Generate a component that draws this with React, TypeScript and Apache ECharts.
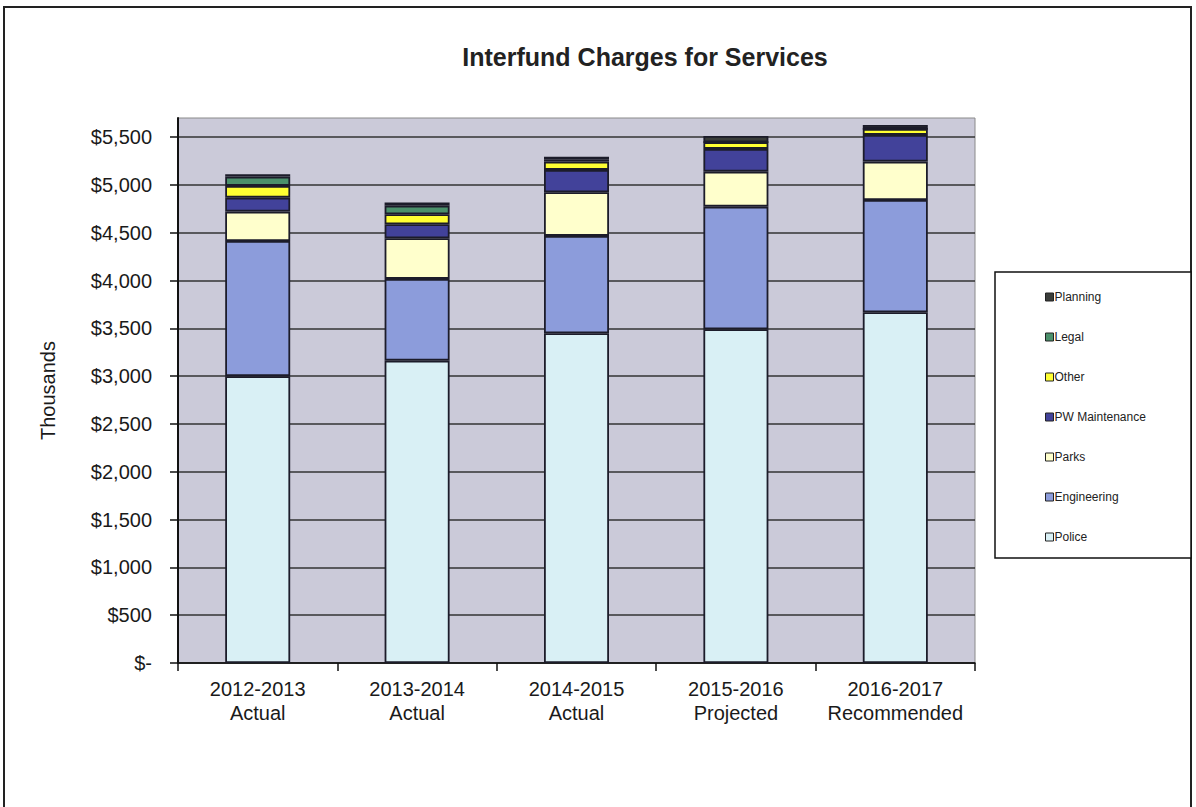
import React, { useEffect, useRef } from "react";
import * as echarts from "echarts";

const categories = [
  "2012-2013\nActual",
  "2013-2014\nActual",
  "2014-2015\nActual",
  "2015-2016\nProjected",
  "2016-2017\nRecommended",
];
const police = [3000, 3162, 3449, 3490, 3668];
const engineering = [1414, 855, 1018, 1283, 1175];
const parks = [307, 425, 456, 366, 401];
const pwMaintenance = [146, 147, 234, 238, 279];
const other = [123, 104, 87, 70, 63];
const legal = [97, 90, 25, 0, 0];
const planning = [25, 32, 27, 66, 42];
const yTickValues = [0, 500, 1000, 1500, 2000, 2500, 3000, 3500, 4000, 4500, 5000, 5500];

const seriesDefs = [
  { name: "Police", data: police, color: "#d9f0f5" },
  { name: "Engineering", data: engineering, color: "#8c9cdb" },
  { name: "Parks", data: parks, color: "#ffffcc" },
  { name: "PW Maintenance", data: pwMaintenance, color: "#42429a" },
  { name: "Other", data: other, color: "#ffff33" },
  { name: "Legal", data: legal, color: "#4b906b" },
  { name: "Planning", data: planning, color: "#3a3d3a" },
];

const FONT = "'Liberation Sans', Arial, sans-serif";

export default function App() {
  const ref = useRef<HTMLDivElement>(null);
  useEffect(() => {
    if (!ref.current) return;
    const chart = echarts.init(ref.current, undefined, { renderer: "svg" });
    chart.setOption({
      animation: false,
      backgroundColor: "#ffffff",
      textStyle: { fontFamily: FONT },
      graphic: [
        {
          type: "rect",
          z: -10,
          shape: { x: 4, y: 7, width: 1187, height: 810 },
          style: { fill: "none", stroke: "#222", lineWidth: 2 },
        },
        {
          type: "rect",
          z: 1,
          shape: { x: 995, y: 272, width: 196, height: 286 },
          style: { fill: "#ffffff", stroke: "#111", lineWidth: 1.5 },
        },
        {
          type: "text",
          x: 645,
          y: 57,
          style: {
            text: "Interfund Charges for Services",
            fontFamily: FONT,
            fontSize: 25,
            fontWeight: "bold",
            fill: "#222",
            align: "center",
            verticalAlign: "middle",
          },
        },
      ],
      legend: {
        orient: "vertical",
        left: 1040,
        top: 286,
        itemGap: 28,
        itemWidth: 8,
        itemHeight: 8,
        icon: "rect",
        z: 5,
        data: ["Planning", "Legal", "Other", "PW Maintenance", "Parks", "Engineering", "Police"],
        textStyle: { fontSize: 12, color: "#222", fontFamily: FONT, padding: [0, 0, 0, -4] },
        itemStyle: { borderColor: "#222", borderWidth: 1 },
      },
      grid: {
        left: 178,
        right: 221,
        top: 118,
        bottom: 144,
        show: true,
        backgroundColor: "#cbcad9",
        borderColor: "#8a8a8a",
        borderWidth: 1,
      },
      xAxis: {
        type: "category",
        data: categories,
        axisLine: { lineStyle: { color: "#111", width: 1.5 } },
        axisTick: { show: true, length: 8, lineStyle: { color: "#111", width: 1.5 } },
        axisLabel: {
          interval: 0,
          hideOverlap: false,
          fontSize: 20,
          lineHeight: 24,
          color: "#1a1a1a",
          margin: 14,
          fontFamily: FONT,
        },
      },
      yAxis: {
        type: "value",
        min: 0,
        max: 5700,
        interval: 500,
        name: "Thousands",
        nameLocation: "middle",
        nameGap: 120,
        nameTextStyle: { fontSize: 20, color: "#1a1a1a", fontFamily: FONT },
        axisLine: { show: true, lineStyle: { color: "#111", width: 2 } },
        axisTick: { show: true, length: 8, lineStyle: { color: "#111", width: 1.5 }, customValues: yTickValues },
        axisLabel: {
          fontSize: 20,
          color: "#1a1a1a",
          margin: 26,
          fontFamily: FONT,
          customValues: yTickValues,
          formatter: (v: number) => (v === 0 ? "$-" : "$" + v.toLocaleString("en-US")),
        },
        splitLine: { show: true, lineStyle: { color: "#333", width: 1.5 } },
      },
      series: seriesDefs.map((s) => ({
        name: s.name,
        type: "bar",
        stack: "total",
        barWidth: 65,
        data: s.data,
        itemStyle: { color: s.color, borderColor: "#1c1c2a", borderWidth: 1.8 },
      })),
    });
    return () => chart.dispose();
  }, []);
  return (
    <div
      ref={ref}
      style={{ position: "fixed", left: 0, top: 0, width: 1196, height: 807 }}
    />
  );
}
